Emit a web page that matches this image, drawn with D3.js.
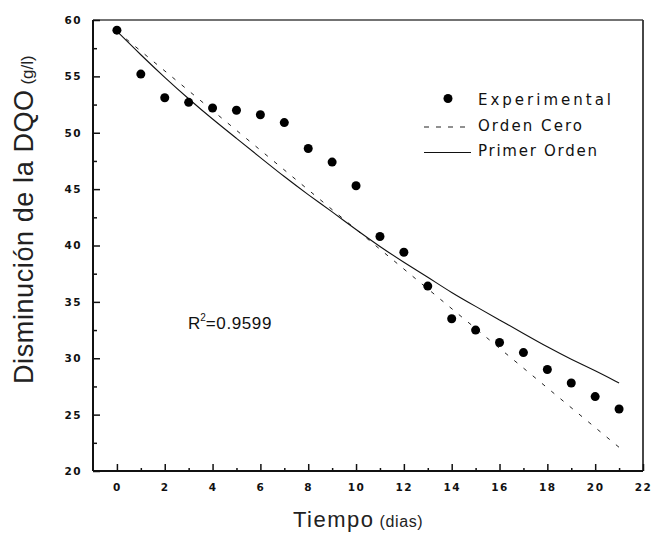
<!DOCTYPE html>
<html>
<head>
<meta charset="utf-8">
<script src="https://cdn.jsdelivr.net/npm/d3@7"></script>
<style>
  html, body { margin: 0; padding: 0; background: #fff; }
  svg { display: block; }
</style>
</head>
<body>
<svg id="chart" width="653" height="534"></svg>
<script>
// datos
const dias = [0, 1, 2, 3, 4, 5, 6, 7, 8, 9, 10, 11, 12, 13, 14, 15, 16, 17, 18, 19, 20, 21];
const dqoExperimental = [59.1, 55.2, 53.1, 52.7, 52.2, 52.0, 51.6, 50.9, 48.6, 47.4, 45.3,
  40.8, 39.4, 36.4, 33.5, 32.5, 31.4, 30.5, 29.0, 27.8, 26.6, 25.5];
const diasCero = [0, 21];
const dqoCero = [59.0, 22.1];
const dqoPrimer = [59.0, 56.9, 54.9, 53.0, 51.2, 49.5, 47.8, 46.1, 44.5, 43.0, 41.4,
  39.9, 38.5, 37.2, 35.8, 34.6, 33.4, 32.2, 31.0, 29.9, 28.9, 27.8];
const xMajor = [0, 2, 4, 6, 8, 10, 12, 14, 16, 18, 20, 22];
const xMinor = [1, 3, 5, 7, 9, 11, 13, 15, 17, 19, 21];
const yMajor = [20, 25, 30, 35, 40, 45, 50, 55, 60];
const yMinor = [22.5, 27.5, 32.5, 37.5, 42.5, 47.5, 52.5, 57.5];
const leyenda = ["Experimental", "Orden Cero", "Primer Orden"];

const svg = d3.select("#chart");
const mLeft = 93, mRight = 643, mTop = 20, mBottom = 471;

const x = d3.scaleLinear().domain([-1, 22]).range([mLeft, mRight]);
const y = d3.scaleLinear().domain([20, 60]).range([mBottom, mTop]);

const tickFont = "'DejaVu Sans', sans-serif";

// marco superior y derecho
svg.append("line").attr("x1", mLeft).attr("x2", mRight).attr("y1", mTop).attr("y2", mTop)
  .attr("stroke", "#444").attr("stroke-width", 1.5);
svg.append("line").attr("x1", mRight).attr("x2", mRight).attr("y1", mTop).attr("y2", mBottom)
  .attr("stroke", "#333").attr("stroke-width", 1.8);

// eje x
const gx = svg.append("g").attr("transform", `translate(0,${mBottom})`)
  .call(d3.axisBottom(x).tickValues(xMajor).tickSizeInner(-7).tickSizeOuter(0).tickPadding(13));
svg.append("g").attr("transform", `translate(0,${mBottom})`)
  .call(d3.axisBottom(x).tickValues(xMinor).tickSizeInner(-3).tickSizeOuter(0).tickFormat(""))
  .select(".domain").remove();

// eje y
const gy = svg.append("g").attr("transform", `translate(${mLeft},0)`)
  .call(d3.axisLeft(y).tickValues(yMajor).tickSizeInner(-7).tickSizeOuter(0).tickPadding(11));
svg.append("g").attr("transform", `translate(${mLeft},0)`)
  .call(d3.axisLeft(y).tickValues(yMinor).tickSizeInner(-4).tickSizeOuter(0).tickFormat(""))
  .select(".domain").remove();

[gx, gy].forEach(g => {
  g.select(".domain").attr("stroke", "#111").attr("stroke-width", 2);
  g.selectAll(".tick text").attr("font-family", tickFont).attr("font-weight", "bold")
    .attr("font-size", 10.5).attr("fill", "#111").attr("letter-spacing", 1.5);
});
gy.select(".domain").attr("d", `M0,${mTop}V${mBottom}`);
gx.select(".domain").attr("d", `M${mLeft},0H${mRight}`);
svg.selectAll(".tick line").attr("stroke", "#111").attr("stroke-width", 1.5);

// curvas de ajuste
const lineaCero = d3.line().x(d => x(d[0])).y(d => y(d[1]));
svg.append("path")
  .datum(diasCero.map((d, i) => [d, dqoCero[i]]))
  .attr("d", lineaCero)
  .attr("fill", "none").attr("stroke", "#222").attr("stroke-width", 1)
  .attr("stroke-dasharray", "4,8");

const lineaPrimer = d3.line().curve(d3.curveBasis).x(d => x(d[0])).y(d => y(d[1]));
svg.append("path")
  .datum(dias.map((d, i) => [d, dqoPrimer[i]]))
  .attr("d", lineaPrimer)
  .attr("fill", "none").attr("stroke", "#111").attr("stroke-width", 1.1);

// puntos experimentales
svg.append("g").selectAll("circle")
  .data(dias.map((d, i) => [d, dqoExperimental[i]]))
  .join("circle")
  .attr("cx", d => x(d[0]))
  .attr("cy", d => y(d[1]))
  .attr("r", 4.5)
  .attr("fill", "#000");

// leyenda
const legendFont = "'DejaVu Sans', sans-serif";
const lg = svg.append("g");
lg.append("circle").attr("cx", 448).attr("cy", 98.5).attr("r", 4.5).attr("fill", "#000");
lg.append("line").attr("x1", 424).attr("x2", 471).attr("y1", 127).attr("y2", 127)
  .attr("stroke", "#222").attr("stroke-width", 1.2).attr("stroke-dasharray", "5,7");
lg.append("line").attr("x1", 424).attr("x2", 471).attr("y1", 152.5).attr("y2", 152.5)
  .attr("stroke", "#111").attr("stroke-width", 1.2);
const legendWidths = [133, 104, 119];
lg.selectAll("text").data(leyenda).join("text")
  .attr("x", 478)
  .attr("y", (d, i) => 105 + i * 25.5)
  .attr("font-family", legendFont)
  .attr("font-size", 15)
  .attr("fill", "#111")
  .attr("textLength", (d, i) => legendWidths[i])
  .attr("lengthAdjust", "spacing")
  .text(d => d);

// R^2
const r2 = svg.append("text")
  .attr("x", 188).attr("y", 329)
  .attr("font-family", "'Liberation Sans', Arial, sans-serif")
  .attr("font-size", 17)
  .attr("fill", "#111");
r2.append("tspan").text("R");
r2.append("tspan").attr("font-size", 10).attr("dy", -8).text("2");
r2.append("tspan").attr("dy", 8).attr("letter-spacing", 0.6).text("=0.9599");

// titulos de ejes
const titleFont = "'Liberation Sans', Arial, sans-serif";
const ty = svg.append("text")
  .attr("transform", "translate(33,384) rotate(-90)")
  .attr("font-family", titleFont)
  .attr("fill", "#222");
ty.append("tspan").attr("font-size", 27).attr("letter-spacing", 0.6).text("Disminución de la DQO");
ty.append("tspan").attr("font-size", 17).text(" (g/l)");

const tx = svg.append("text")
  .attr("x", 293).attr("y", 527)
  .attr("font-family", titleFont)
  .attr("fill", "#222");
tx.append("tspan").attr("font-size", 22).attr("letter-spacing", 1.5).text("Tiempo");
tx.append("tspan").attr("font-size", 16).attr("letter-spacing", 0.6).text(" (dias)");
</script>
</body>
</html>
